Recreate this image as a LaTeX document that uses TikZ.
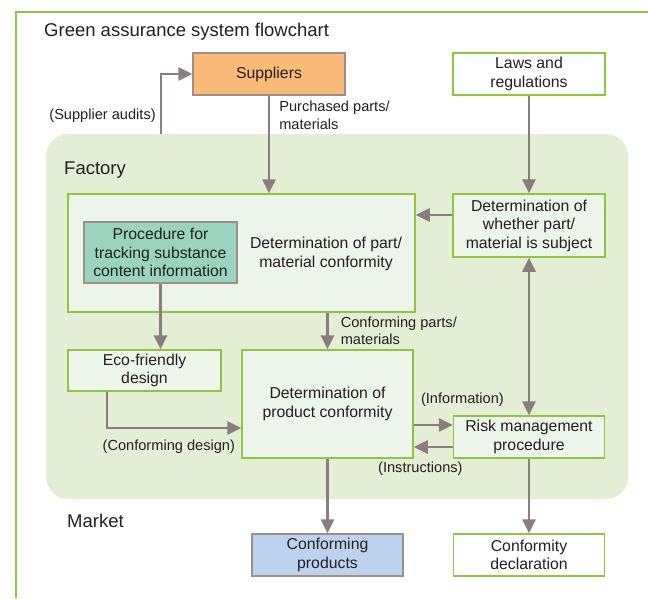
\documentclass[tikz,border=0pt]{standalone}
\usepackage{fontspec}
\setmainfont{Liberation Sans}
\usetikzlibrary{arrows.meta,positioning}
\definecolor{framegreen}{RGB}{141,198,63}
\definecolor{factorygreen}{RGB}{227,238,212}
\definecolor{boxfill}{RGB}{237,244,233}
\definecolor{arrowgray}{RGB}{139,125,123}
\definecolor{supplierorange}{RGB}{249,187,119}
\definecolor{procteal}{RGB}{154,212,190}
\definecolor{prodblue}{RGB}{188,211,238}
\definecolor{inkgray}{RGB}{35,31,32}

\begin{document}
\begin{tikzpicture}[x=1pt, y=-1pt, >={Triangle[length=14pt,width=13pt]},
  box/.style = {draw=framegreen, line width=1.5pt, fill=boxfill, text=inkgray, align=center, inner sep=0pt, font=\fontsize{15.8}{18.5}\selectfont},
  greybox/.style = {box, draw=arrowgray!85, line width=1.2pt},
  lbl/.style = {inner sep=0pt, align=left, text=inkgray, font=\fontsize{14.6}{17.5}\selectfont},
  head/.style = {inner sep=0pt, anchor=base west, text=inkgray, font=\fontsize{18.5}{22}\selectfont},
  flow/.style = {draw=arrowgray, line width=2.6pt}]
\useasboundingbox (0,0) rectangle (648,598);
\draw[framegreen, line width=1.5pt] (16,598) -- (16,12) -- (648,12);
\node[fill=factorygreen, rounded corners=22pt, minimum width=582pt, minimum height=365pt, inner sep=0pt] (factory) at (337,316.5) {};

\node[head] (title) at (44,36) {Green assurance system flowchart};
\node[head] (fact) at (64,174) {Factory};
\node[head] (market) at (67,527) {Market};

\node[greybox, fill=supplierorange, minimum width=152pt, minimum height=42pt] (sup) at (269,74) {Suppliers};
\node[box, fill=white, minimum width=152pt, minimum height=42pt] (laws) at (529,74) {Laws and\\regulations};
\node[box, minimum width=152pt, minimum height=63pt] (subj) [below of=laws, node distance=151.5pt] {Determination of\\whether part/\\material is subject};
\node[box, minimum width=347pt, minimum height=118pt] (part) at (241.5,253) {};
\node[inner sep=0pt, align=center, text=inkgray, font=\fontsize{15.8}{18.5}\selectfont] (parttxt) at (326,254) {Determination of part/\\material conformity};
\node[greybox, fill=procteal, minimum width=153pt, minimum height=61pt] (proc) at (160.5,252.5) {Procedure for\\tracking substance\\content information};
\node[box, minimum width=153pt, minimum height=41pt] (eco) at (144.5,370.5) {Eco-friendly\\design};
\node[box, minimum width=171pt, minimum height=108pt] (prod) at (327.5,404) {Determination of\\product conformity};
\node[box, minimum width=151pt, minimum height=42pt] (risk) [below of=subj, node distance=211.5pt] {Risk management\\procedure};
\node[greybox, fill=prodblue, minimum width=151pt, minimum height=42pt] (cprod) [below of=prod, node distance=151pt] {Conforming\\products};
\node[box, fill=white, minimum width=151pt, minimum height=42pt] (decl) [below of=risk, node distance=118pt] {Conformity\\declaration};
\coordinate (audit) at (161,134);

\draw[flow, ->] (audit) |- node[lbl, pos=0.15, left=4pt] (laudit) {(Supplier audits)} (sup.west);
\draw[flow, ->] (sup.south) -- node[lbl, pos=0.2, right=9pt] (lpurch) {Purchased parts/\\materials} (sup.south |- part.north);
\draw[flow, ->] (laws) -- (subj);
\draw[flow, ->] (subj.west |- 0,215) -- (part.east |- 0,215);
\draw[flow, <->] (subj) -- (risk);
\draw[flow, ->] (proc) -- (proc |- eco.north);
\draw[flow, ->] (part.south -| prod) -- node[lbl, right=12pt] (lconf) {Conforming parts/\\materials} (prod);
\draw[flow, ->] (eco.south -| 107,0) |- node[lbl, pos=1, below left=11pt and 5pt] (ldesign) {(Conforming design)} (prod.west |- 0,428);
\draw[flow, ->] (prod.east |- 0,425) -- node[lbl, pos=0, above right=17pt and 6pt] (linfo) {(Information)} (risk.west |- 0,425);
\draw[flow, ->] (risk.west |- 0,447) -- node[lbl, pos=0.83, below=14pt] (linstr) {(Instructions)} (prod.east |- 0,447);
\draw[flow, ->] (prod) -- (cprod);
\draw[flow, ->] (risk) -- (decl);
\end{tikzpicture}
\end{document}
